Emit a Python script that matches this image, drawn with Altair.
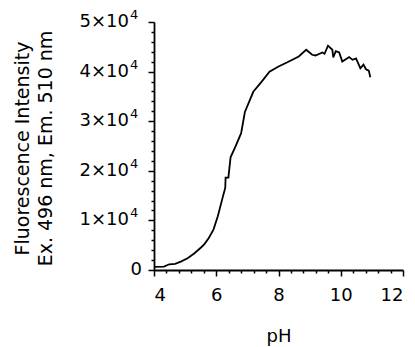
import altair as alt
import pandas as pd

PH = [4.0, 4.32, 4.49, 4.68, 4.86, 5.08, 5.30, 5.51, 5.62, 5.76,
      5.91, 6.05, 6.19, 6.29, 6.30, 6.39, 6.46, 6.63, 6.80, 6.92,
      7.19, 7.46, 7.71, 8.0, 8.27, 8.65, 8.89, 9.08, 9.19, 9.41,
      9.48, 9.59, 9.73, 9.76, 9.84, 9.95, 10.05, 10.27, 10.38, 10.49,
      10.63, 10.73, 10.81, 10.90, 10.95]
FLUOR = [610, 680, 1150, 1220, 1700, 2370, 3390, 4540, 5220, 6440,
         8140, 10850, 14240, 16610, 18640, 18640, 22710, 25080, 27590, 31860,
         35930, 37970, 40000, 41020, 41830, 43050, 44410, 43390, 43250, 43860,
         43590, 45220, 44410, 42850, 44140, 43860, 42030, 42920, 42370, 42640,
         40680, 41420, 40470, 40200, 38850]

X_MAJOR = [4, 6, 8, 10, 12]
X_MINOR = [4.4, 4.8, 5.2, 5.6, 6.4, 6.8, 7.2, 7.6, 8.4, 8.8, 9.2, 9.6,
           10.4, 10.8, 11.2, 11.6]
Y_MAJOR = [0, 10000, 20000, 30000, 40000, 50000]
Y_MINOR = [v for v in range(2000, 50000, 2000) if v % 10000 != 0]

# y tick labels: mantissa × 10^exponent
Y_LABEL_VALUES = [10000, 20000, 30000, 40000, 50000]
Y_LABEL_BASE = ["1×10", "2×10", "3×10", "4×10", "5×10"]
Y_LABEL_EXP = ["4", "4", "4", "4", "4"]
Y_ZERO_VALUE = [0]
Y_ZERO_LABEL = ["0"]

df = pd.DataFrame({"pH": PH, "F": FLUOR})
lab = pd.DataFrame({"v": Y_LABEL_VALUES, "base": Y_LABEL_BASE, "exp": Y_LABEL_EXP})
zero = pd.DataFrame({"v": Y_ZERO_VALUE, "t": Y_ZERO_LABEL})

xs = alt.Scale(domain=[4, 12], nice=False, zero=False)
ys = alt.Scale(domain=[0, 50000], nice=False)

FONT = "DejaVu Sans"
FS = 18

line = alt.Chart(df).mark_line(color="black", strokeWidth=1.8).encode(
    x=alt.X("pH:Q", scale=xs, axis=alt.Axis(
        values=X_MAJOR, title="pH", tickSize=6, labelPadding=10,
        titleY=71, titleBaseline="alphabetic", format="d")),
    y=alt.Y("F:Q", scale=ys, axis=alt.Axis(
        values=Y_MAJOR, tickSize=6, labels=False,
        title=["Fluorescence Intensity", "Ex. 496 nm, Em. 510 nm"],
        titleX=-122, titleY=126, titleAlign="center", titleBaseline="bottom",
        titleFontSize=19, titleLineHeight=23)),
)

minor = alt.Chart(df).mark_line(opacity=0).encode(
    x=alt.X("pH:Q", scale=xs, axis=alt.Axis(
        values=X_MINOR, labels=False, title="", domain=False, tickSize=3,
        orient="bottom")),
    y=alt.Y("F:Q", scale=ys, axis=alt.Axis(
        values=Y_MINOR, labels=False, title="", domain=False, tickSize=3,
        orient="left")),
)

base_txt = alt.Chart(lab).mark_text(
    align="right", baseline="middle", font=FONT, fontSize=FS, color="black"
).encode(
    x=alt.value(-25),
    y=alt.Y("v:Q", scale=ys, axis=None),
    text="base:N",
)

exp_txt = alt.Chart(lab).mark_text(
    align="left", baseline="middle", font=FONT, fontSize=13, color="black", dy=-7
).encode(
    x=alt.value(-24),
    y=alt.Y("v:Q", scale=ys, axis=None),
    text="exp:N",
)

zero_txt = alt.Chart(zero).mark_text(
    align="right", baseline="middle", font=FONT, fontSize=FS, color="black"
).encode(
    x=alt.value(-12),
    y=alt.Y("v:Q", scale=ys, axis=None),
    text="t:N",
)

chart = alt.layer(line, minor, base_txt, exp_txt, zero_txt).resolve_axis(
    x="independent", y="independent"
).properties(
    width=249, height=248,
    autosize=alt.AutoSizeParams(type="none"),
    padding={"left": 154, "top": 22, "right": 12, "bottom": 77},
).configure_view(stroke=None).configure_axis(
    grid=False, labelFont=FONT, titleFont=FONT, labelFontSize=FS,
    titleFontSize=FS, labelColor="black", titleColor="black",
    titleFontWeight="normal", domainColor="black", tickColor="black",
    domainWidth=1.8, tickWidth=1.5,
)

chart.save("out.html", embed_options={"renderer": "svg", "actions": False})
